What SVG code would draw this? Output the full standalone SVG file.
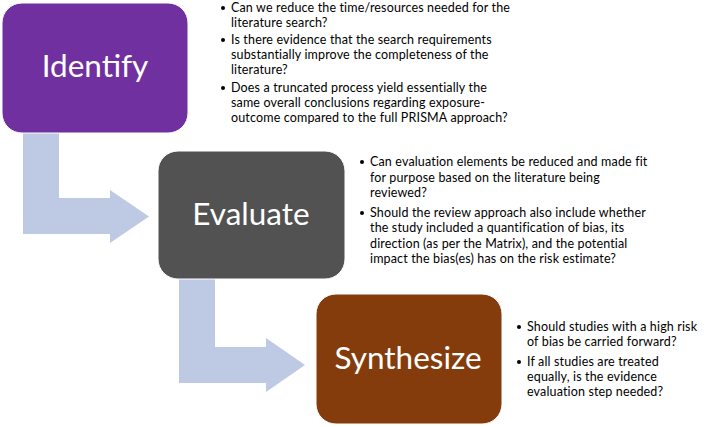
<svg xmlns="http://www.w3.org/2000/svg" width="711" height="427" viewBox="0 0 711 427">
<style>
.arrow{fill:#BEC9E4;stroke:none}
.box{stroke:#ffffff;stroke-width:1}
.title{font-family:Lato,"Liberation Sans",sans-serif;font-size:31.5px;fill:#ffffff;text-anchor:middle}
.txt{font-family:Lato,"Liberation Sans",sans-serif;font-size:12.5px;letter-spacing:0.15px;fill:#000000}
.dot{fill:#000000}
</style>
<rect width="711" height="427" fill="#ffffff"/>
<g id="connectors">
<polygon class="arrow" points="23,130 59,130 59,198 110,198 110,190 149,216.5 110,243 110,234 23,234"/>
<polygon class="arrow" points="179,276 215,276 215,347 266,347 266,338 305,365 266,392 266,383 179,383"/>
</g>
<g id="identify">
<rect class="box" x="2" y="3" width="186" height="130" rx="20" fill="#7030A0"/>
<text class="title" x="95" y="77">Identify</text>
</g>
<g id="identify-notes">
<circle class="dot" cx="223" cy="8" r="2"/>
<circle class="dot" cx="223" cy="40" r="2"/>
<circle class="dot" cx="223" cy="88" r="2"/>
<text class="txt" x="231" y="12">Can we reduce the time/resources needed for the</text>
<text class="txt" x="231" y="27">literature search?</text>
<text class="txt" x="231" y="44">Is there evidence that the search requirements</text>
<text class="txt" x="231" y="59">substantially improve the completeness of the</text>
<text class="txt" x="231" y="74">literature?</text>
<text class="txt" x="231" y="92">Does a truncated process yield essentially the</text>
<text class="txt" x="231" y="107">same overall conclusions regarding exposure-</text>
<text class="txt" x="231" y="122">outcome compared to the full PRISMA approach?</text>
</g>
<g id="evaluate">
<rect class="box" x="158" y="151" width="187" height="128" rx="20" fill="#525252"/>
<text class="title" x="251" y="225">Evaluate</text>
</g>
<g id="evaluate-notes">
<circle class="dot" cx="362" cy="162" r="2"/>
<circle class="dot" cx="362" cy="213" r="2"/>
<text class="txt" x="370" y="166">Can evaluation elements be reduced and made fit</text>
<text class="txt" x="370" y="182">for purpose based on the literature being</text>
<text class="txt" x="370" y="197">reviewed?</text>
<text class="txt" x="370" y="217">Should the review approach also include whether</text>
<text class="txt" x="370" y="232">the study included a quantification of bias, its</text>
<text class="txt" x="370" y="248">direction (as per the Matrix), and the potential</text>
<text class="txt" x="370" y="263">impact the bias(es) has on the risk estimate?</text>
</g>
<g id="synthesize">
<rect class="box" x="316" y="294" width="186" height="130" rx="20" fill="#843C0C"/>
<text class="title" x="408" y="369">Synthesize</text>
</g>
<g id="synthesize-notes">
<circle class="dot" cx="519" cy="327" r="2"/>
<circle class="dot" cx="519" cy="362" r="2"/>
<text class="txt" x="527" y="331">Should studies with a high risk</text>
<text class="txt" x="527" y="346">of bias be carried forward?</text>
<text class="txt" x="527" y="366">If all studies are treated</text>
<text class="txt" x="527" y="381">equally, is the evidence</text>
<text class="txt" x="527" y="396">evaluation step needed?</text>
</g>
</svg>
